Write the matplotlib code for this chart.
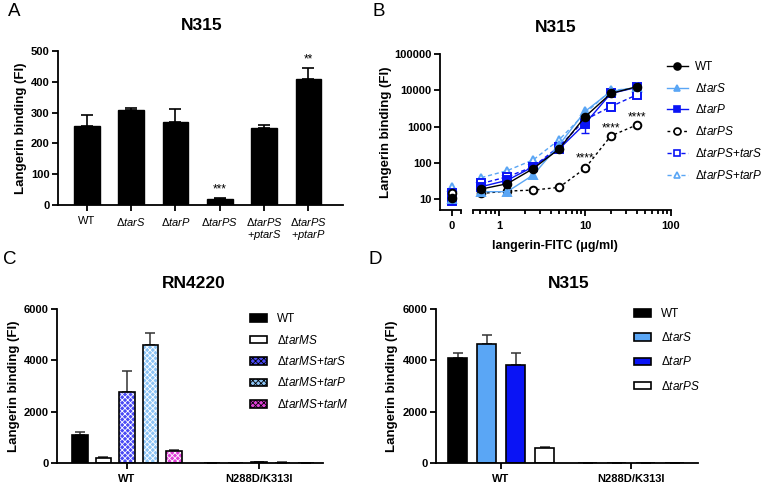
import matplotlib
matplotlib.use("Agg")
import matplotlib.pyplot as plt
from matplotlib.patches import Patch
from matplotlib.lines import Line2D
from matplotlib.ticker import FixedLocator, NullFormatter, LogLocator, NullLocator
import numpy as np

plt.rcParams['font.family'] = ['Liberation Sans', 'DejaVu Sans']
plt.rcParams['mathtext.fontset'] = 'custom'
plt.rcParams['mathtext.rm'] = 'Liberation Sans'
plt.rcParams['mathtext.it'] = 'Liberation Sans:italic'
plt.rcParams['mathtext.bf'] = 'Liberation Sans:bold'

# ---------------- data ----------------
A_labels = ['WT', 'Δ$\\mathit{tarS}$', 'Δ$\\mathit{tarP}$', 'Δ$\\mathit{tarPS}$',
            'Δ$\\mathit{tarPS}$\n+$\\mathit{ptarS}$', 'Δ$\\mathit{tarPS}$\n+$\\mathit{ptarP}$']
A_values = [257, 307, 270, 20, 249, 410]
A_err = [36, 9, 41, 3, 12, 36]
A_sig = ['', '', '', '***', '', '**']

B_conc = [0.625, 1.25, 2.5, 5, 10, 20, 40]
B_names = ['WT', 'Δ$\\mathit{tarS}$', 'Δ$\\mathit{tarP}$', 'Δ$\\mathit{tarPS}$',
           'Δ$\\mathit{tarPS}$+$\\mathit{tarS}$', 'Δ$\\mathit{tarPS}$+$\\mathit{tarP}$']
B_zero = [10.9, 10.0, 8.8, 14.3, 15.0, 22.0]
B_WT = [18.9, 26.5, 69, 240, 1850, 8170, 12500]
B_tarS = [16, 16, 46, 310, 2600, 9300, 12000]
B_tarP = [22, 33, 78, 240, 1190, 8170, 12000]
B_tarPS = [14.3, 16.6, 17.7, 21, 70, 550, 1110]
B_tarPS_tarS = [27, 41, 78, 280, 1530, 3540, 7500]
B_tarPS_tarP = [39, 61, 120, 430, 2300, 9900, 11500]
B_tarP_err = [0, 0, 0, 0, 510, 0, 0]
B_sig_conc = [10, 20, 40]
B_sig_y = [130, 880, 1800]

C_groups = ['WT', 'N288D/K313I']
C_names = ['WT', 'Δ$\\mathit{tarMS}$', 'Δ$\\mathit{tarMS}$+$\\mathit{tarS}$',
           'Δ$\\mathit{tarMS}$+$\\mathit{tarP}$', 'Δ$\\mathit{tarMS}$+$\\mathit{tarM}$']
C_values = [[1080, 12], [190, 5], [2780, 20], [4580, 15], [480, 8]]
C_err = [[120, 5], [40, 3], [820, 15], [500, 5], [30, 3]]

D_groups = ['WT', 'N288D/K313I']
D_names = ['WT', 'Δ$\\mathit{tarS}$', 'Δ$\\mathit{tarP}$', 'Δ$\\mathit{tarPS}$']
D_values = [[4100, 10], [4640, 10], [3820, 10], [570, 5]]
D_err = [[200, 5], [360, 5], [460, 5], [50, 3]]

# ---------------- style ----------------
W, H = 766, 483
LBLUE = '#5aa6f5'
BLUE = '#0a14f5'
MAG = '#e040d8'
TICK = 8
YLAB = 9.5

fig = plt.figure(figsize=(W / 100, H / 100), dpi=100)


def rect(l, r, t, b):
    return [l / W, 1 - b / H, (r - l) / W, (b - t) / H]


def ftext(x, y, s, **kw):
    fig.text(x / W, 1 - y / H, s, **kw)


def style_ax(ax):
    for s in ['top', 'right']:
        ax.spines[s].set_visible(False)
    for s in ['left', 'bottom']:
        ax.spines[s].set_linewidth(1.3)
    ax.tick_params(direction='out', width=1.3, length=4, labelsize=TICK, pad=2)
    for lab in ax.get_yticklabels():
        lab.set_fontweight('bold')


# ---------------- Panel A ----------------
axA = fig.add_axes(rect(58, 343, 51, 205))
xA = np.arange(len(A_values))
axA.bar(xA, A_values, width=0.58, color='black', edgecolor='black', zorder=2)
axA.errorbar(xA, A_values, yerr=[np.zeros(len(A_err)), A_err], fmt='none',
             ecolor='black', elinewidth=1.2, capsize=4, capthick=1.2, zorder=1)
for xi, v, e, s in zip(xA, A_values, A_err, A_sig):
    if s:
        axA.text(xi, v + e + 8, s, ha='center', va='bottom', fontsize=8.5)
axA.set_xlim(-0.65, 5.78)
axA.set_ylim(0, 500)
axA.set_yticks([0, 100, 200, 300, 400, 500])
axA.set_xticks(xA)
axA.set_xticklabels(A_labels, fontsize=8.7, linespacing=1.0)
style_ax(axA)
axA.tick_params(axis='x', length=4, pad=4)
axA.set_ylabel('Langerin binding (FI)', fontsize=YLAB, fontweight='bold', labelpad=3)
ftext(202, 25, 'N315', fontsize=12.5, fontweight='bold', ha='center', va='center')
ftext(8, 12, 'A', fontsize=13.5, ha='left', va='center')

# ---------------- Panel B ----------------
axB0 = fig.add_axes(rect(440, 461, 54, 210))
axB = fig.add_axes(rect(473, 671, 54, 210), sharey=axB0)
for ax in (axB0, axB):
    ax.set_yscale('log')
    ax.set_ylim(5, 100000)
axB0.set_xlim(-1.1, 0.9)
axB.set_xscale('log')
axB.set_xlim(0.5, 100)

series = [
    (B_WT, B_zero[0], dict(color='black', ls='-', marker='o', mfc='black')),
    (B_tarS, B_zero[1], dict(color=LBLUE, ls='-', marker='^', mfc=LBLUE)),
    (B_tarP, B_zero[2], dict(color=BLUE, ls='-', marker='s', mfc=BLUE)),
    (B_tarPS, B_zero[3], dict(color='black', ls=(0, (2, 2)), marker='o', mfc='white')),
    (B_tarPS_tarS, B_zero[4], dict(color=BLUE, ls=(0, (3, 2)), marker='s', mfc='white')),
    (B_tarPS_tarP, B_zero[5], dict(color=LBLUE, ls=(0, (3, 2)), marker='^', mfc='white')),
]
handles = []
for i, (vals, z, st) in enumerate(series):
    kw = dict(lw=1.0, ms=5.5, mew=1.4, mec=st['color'], zorder=3 + (6 - i) * 0.1)
    axB.plot(B_conc, vals, color=st['color'], ls=st['ls'], marker=st['marker'],
             mfc=st['mfc'], **kw)
    axB0.plot([0], [z], color=st['color'], ls='none', marker=st['marker'],
              mfc=st['mfc'], **kw)
    handles.append(Line2D([], [], color=st['color'], ls=st['ls'], marker=st['marker'],
                          mfc=st['mfc'], mec=st['color'], lw=1.0, ms=5, mew=1.2))
axB.errorbar(B_conc, B_tarP, yerr=[B_tarP_err, np.zeros(len(B_tarP_err))], fmt='none',
             ecolor=BLUE, elinewidth=1.0, capsize=3, zorder=2)
for c, y in zip(B_sig_conc, B_sig_y):
    axB.text(c, y, '****', ha='center', va='center', fontsize=8.5)

for ax in (axB0, axB):
    style_ax(ax)
axB.spines['left'].set_visible(False)
axB.tick_params(axis='y', left=False, labelleft=False, which='both')
axB0.yaxis.set_major_locator(FixedLocator([10, 100, 1000, 10000, 100000]))
axB0.yaxis.set_minor_locator(NullLocator())
axB0.set_yticklabels(['10', '100', '1000', '10000', '100000'])
for lab in axB0.get_yticklabels():
    lab.set_fontweight('bold')
axB0.set_xticks([0])
axB0.set_xticklabels(['0'])
axB0.xaxis.set_minor_locator(FixedLocator([0.9]))
axB.xaxis.set_major_locator(FixedLocator([1, 10, 100]))
axB.set_xticklabels(['1', '10', '100'])
axB.xaxis.set_minor_locator(LogLocator(base=10, subs=np.arange(2, 10)))
axB.xaxis.set_minor_formatter(NullFormatter())
for ax in (axB0, axB):
    ax.tick_params(axis='x', which='minor', length=3, width=1.3, direction='out')
    ax.tick_params(axis='x', which='major', pad=4)
    for lab in ax.get_xticklabels():
        lab.set_fontweight('bold')
axB0.set_ylabel('Langerin binding (FI)', fontsize=YLAB, fontweight='bold', labelpad=2)
ftext(555, 246, 'langerin-FITC (μg/ml)', fontsize=9, fontweight='bold', ha='center', va='center')
ftext(556, 28, 'N315', fontsize=12.5, fontweight='bold', ha='center', va='center')
ftext(372, 12, 'B', fontsize=13.5, ha='left', va='center')
fig.legend(handles, B_names, loc='upper left', bbox_to_anchor=(667 / W, 1 - 61 / H),
           frameon=False, fontsize=8.5, handlelength=1.75, handletextpad=0.6,
           labelspacing=0.74, borderpad=0, borderaxespad=0)


# ---------------- grouped bars helper ----------------
def grouped(ax, values, errs, styles, width, step):
    n = len(values)
    x = np.arange(len(values[0]))
    for i, (v, e, st) in enumerate(zip(values, errs, styles)):
        xi = x + (i - (n - 1) / 2) * step
        ax.errorbar(xi, v, yerr=[np.zeros(len(e)), e], fmt='none', ecolor='#333333',
                    elinewidth=1.1, capsize=3.5, capthick=1.1, zorder=1)
        if st.get('hatch'):
            ax.bar(xi, v, width=width, color=st['fc'], edgecolor='white', hatch=st['hatch'],
                   lw=0, zorder=2)
            ax.bar(xi, v, width=width, fill=False, edgecolor='black', lw=1.2, zorder=3)
        else:
            ax.bar(xi, v, width=width, color=st['fc'], edgecolor='black', lw=1.2, zorder=2)
    return x


def legend_handles(styles):
    out = []
    for st in styles:
        out.append(Patch(facecolor=st['fc'], edgecolor='black', lw=1.2,
                         hatch=st.get('hatch')))
    return out


plt.rcParams['hatch.linewidth'] = 0.6
plt.rcParams['hatch.color'] = 'white'

# ---------------- Panel C ----------------
axC = fig.add_axes(rect(57, 323, 309, 463))
C_styles = [dict(fc='black'), dict(fc='white'), dict(fc='#4a4af5', hatch='xxxxxx'),
            dict(fc='#8cc4f5', hatch='xxxxxx'), dict(fc=MAG, hatch='xxxxxx')]
xC = grouped(axC, C_values, C_err, C_styles, width=0.115, step=0.178)
axC.set_xlim(-0.53, 1.485)
axC.set_ylim(0, 6000)
axC.set_yticks([0, 2000, 4000, 6000])
axC.set_xticks(xC)
axC.set_xticklabels(C_groups, fontsize=TICK, fontweight='bold')
style_ax(axC)
axC.tick_params(axis='x', pad=4)
axC.set_ylabel('Langerin binding (FI)', fontsize=YLAB, fontweight='bold', labelpad=3)
ftext(194, 283, 'RN4220', fontsize=12.5, fontweight='bold', ha='center', va='center')
ftext(3, 260, 'C', fontsize=13.5, ha='left', va='center')
fig.legend(legend_handles(C_styles), C_names, loc='upper left',
           bbox_to_anchor=(250 / W, 1 - 313 / H), frameon=False, fontsize=8.5,
           handlelength=1.45, handleheight=0.6, handletextpad=0.85, labelspacing=0.72,
           borderpad=0, borderaxespad=0)

# ---------------- Panel D ----------------
axD = fig.add_axes(rect(436, 698, 309, 463))
D_styles = [dict(fc='black'), dict(fc=LBLUE), dict(fc=BLUE), dict(fc='white')]
xD = grouped(axD, D_values, D_err, D_styles, width=0.146, step=0.223)
axD.set_xlim(-0.5, 1.515)
axD.set_ylim(0, 6000)
axD.set_yticks([0, 2000, 4000, 6000])
axD.set_xticks(xD)
axD.set_xticklabels(D_groups, fontsize=TICK, fontweight='bold')
style_ax(axD)
axD.tick_params(axis='x', pad=4)
axD.set_ylabel('Langerin binding (FI)', fontsize=YLAB, fontweight='bold', labelpad=3)
ftext(569, 283, 'N315', fontsize=12.5, fontweight='bold', ha='center', va='center')
ftext(368, 260, 'D', fontsize=13.5, ha='left', va='center')
fig.legend(legend_handles(D_styles), D_names, loc='upper left',
           bbox_to_anchor=(634 / W, 1 - 308 / H), frameon=False, fontsize=8.5,
           handlelength=1.45, handleheight=0.6, handletextpad=0.85, labelspacing=0.95,
           borderpad=0, borderaxespad=0)

fig.savefig('out.png', dpi=100)
